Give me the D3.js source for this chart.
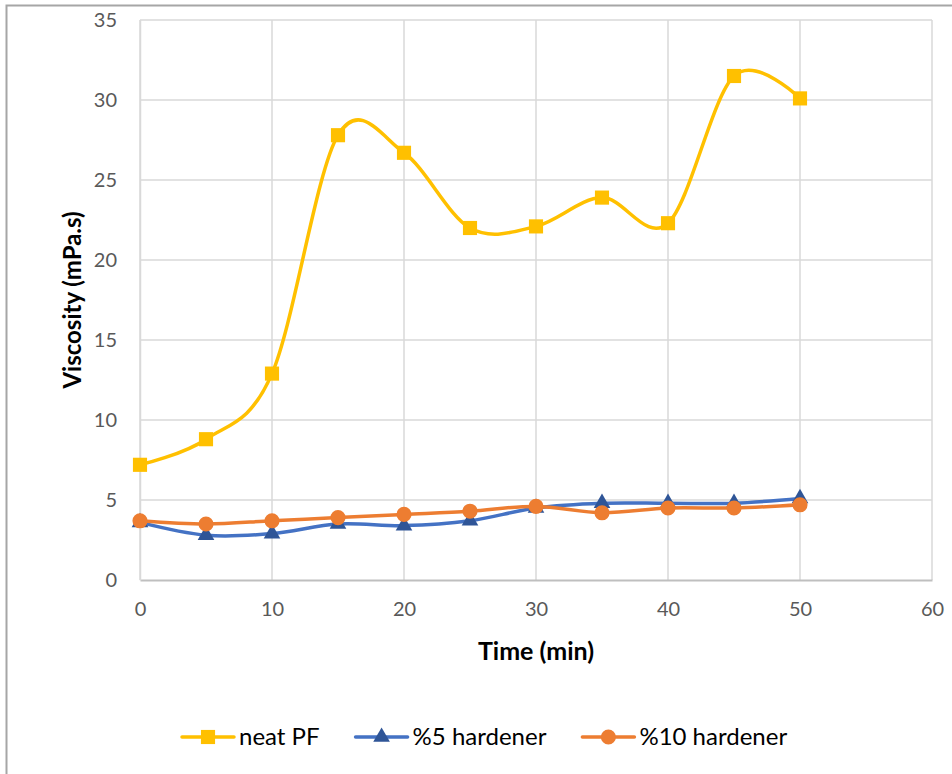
<!DOCTYPE html>
<html>
<head>
<meta charset="utf-8">
<script src="https://cdn.jsdelivr.net/npm/d3@7/dist/d3.min.js"></script>
<style>
  html, body { margin: 0; padding: 0; background: #fff; }
  svg { display: block; }
</style>
</head>
<body>
<svg id="chart" width="952" height="774"></svg>
<script>
// Sampling times (min)
const times = [0, 5, 10, 15, 20, 25, 30, 35, 40, 45, 50];

// Viscosity (mPa.s) for each formulation
const neatPF      = [7.2, 8.8, 12.9, 27.8, 26.7, 22.0, 22.1, 23.9, 22.3, 31.5, 30.1];
const hardener5   = [3.6, 2.8, 2.9, 3.5, 3.4, 3.7, 4.5, 4.8, 4.8, 4.8, 5.1];
const hardener10  = [3.7, 3.5, 3.7, 3.9, 4.1, 4.3, 4.6, 4.2, 4.5, 4.5, 4.7];

const seriesNames = ["neat PF", "%5 hardener", "%10 hardener"];

const xTicks = [0, 10, 20, 30, 40, 50, 60];
const yTicks = [0, 5, 10, 15, 20, 25, 30, 35];

const xTitle = "Time (min)";
const yTitle = "Viscosity (mPa.s)";

const FONT = "Lato, 'Open Sans', sans-serif";

const series = [
  { name: seriesNames[0], values: neatPF,     line: "#FFC000", fill: "#FFC000", symbol: d3.symbolSquare },
  { name: seriesNames[1], values: hardener5,  line: "#4472C4", fill: "#2F5597", symbol: d3.symbolTriangle },
  { name: seriesNames[2], values: hardener10, line: "#ED7D31", fill: "#ED7D31", symbol: d3.symbolCircle }
];

const svg = d3.select("#chart");

// Outer chart frame (runs off the right and bottom edges)
svg.append("rect")
  .attr("x", 6.5).attr("y", 5.5)
  .attr("width", 1000).attr("height", 900)
  .attr("fill", "none")
  .attr("stroke", "#A6A6A6")
  .attr("stroke-width", 2);

const x = d3.scaleLinear().domain([0, 60]).range([140, 932]);
const y = d3.scaleLinear().domain([0, 35]).range([580, 20]);

// Gridlines
const grid = svg.append("g");
grid.selectAll("line.h").data(yTicks.filter(v => v > 0)).join("line")
  .attr("x1", x(0)).attr("x2", x(60))
  .attr("y1", d => y(d)).attr("y2", d => y(d))
  .attr("stroke", "#D9D9D9").attr("stroke-width", 1.5);
grid.selectAll("line.v").data(xTicks).join("line")
  .attr("x1", d => x(d)).attr("x2", d => x(d))
  .attr("y1", y(0)).attr("y2", y(35))
  .attr("stroke", "#D9D9D9").attr("stroke-width", 1.5);

// Axes
const xAxis = svg.append("g")
  .attr("transform", `translate(0,${y(0)})`)
  .call(d3.axisBottom(x).tickValues(xTicks).tickSize(0).tickPadding(22));
xAxis.select(".domain").attr("stroke", "#BFBFBF").attr("stroke-width", 2);
xAxis.selectAll("text")
  .attr("font-family", FONT).attr("font-size", 20).attr("fill", "#595959");

const yAxis = svg.append("g")
  .attr("transform", `translate(${x(0)},0)`)
  .call(d3.axisLeft(y).tickValues(yTicks).tickSize(0).tickPadding(23));
yAxis.select(".domain").attr("stroke", "#D9D9D9").attr("stroke-width", 1.5);
yAxis.selectAll("text")
  .attr("font-family", FONT).attr("font-size", 20).attr("fill", "#595959");

// Axis titles
svg.append("text")
  .attr("x", 536).attr("y", 660)
  .attr("text-anchor", "middle")
  .attr("font-family", FONT).attr("font-size", 25).attr("font-weight", "bold")
  .attr("fill", "#000")
  .text(xTitle);

svg.append("text")
  .attr("transform", "translate(81,300) rotate(-90)")
  .attr("text-anchor", "middle")
  .attr("font-family", FONT).attr("font-size", 24).attr("font-weight", "bold")
  .attr("fill", "#000")
  .text(yTitle);

// Smoothed series lines
const lineGen = d3.line()
  .x(d => x(d[0]))
  .y(d => y(d[1]))
  .curve(d3.curveCardinal.tension(0));

const markerSize = { "neat PF": 200, "%5 hardener": 120, "%10 hardener": 180 };

series.forEach(s => {
  const pts = times.map((t, i) => [t, s.values[i]]);
  const g = svg.append("g");
  g.append("path")
    .datum(pts)
    .attr("d", lineGen)
    .attr("fill", "none")
    .attr("stroke", s.line)
    .attr("stroke-width", 3.5)
    .attr("stroke-linejoin", "round")
    .attr("stroke-linecap", "round");
  g.selectAll("path.m").data(pts).join("path")
    .attr("class", "m")
    .attr("transform", d => `translate(${x(d[0])},${y(d[1])})`)
    .attr("d", d3.symbol().type(s.symbol).size(markerSize[s.name]))
    .attr("fill", s.fill);
});

// Legend
const legend = svg.append("g");
const legendY = 737;
let cursor = 182;
series.forEach(s => {
  const item = legend.append("g").attr("transform", `translate(${cursor},${legendY})`);
  item.append("line")
    .attr("x1", 0).attr("x2", 52).attr("y1", 0).attr("y2", 0)
    .attr("stroke", s.line).attr("stroke-width", 3.5).attr("stroke-linecap", "round");
  item.append("path")
    .attr("transform", "translate(26,0)")
    .attr("d", d3.symbol().type(s.symbol).size(markerSize[s.name]))
    .attr("fill", s.fill);
  const t = item.append("text")
    .attr("x", 57).attr("y", 0).attr("dy", "0.35em")
    .attr("font-family", FONT).attr("font-size", 24)
    .attr("fill", "#000")
    .text(s.name);
  const w = t.node().getComputedTextLength();
  cursor += 57 + w + 36;
});
</script>
</body>
</html>
